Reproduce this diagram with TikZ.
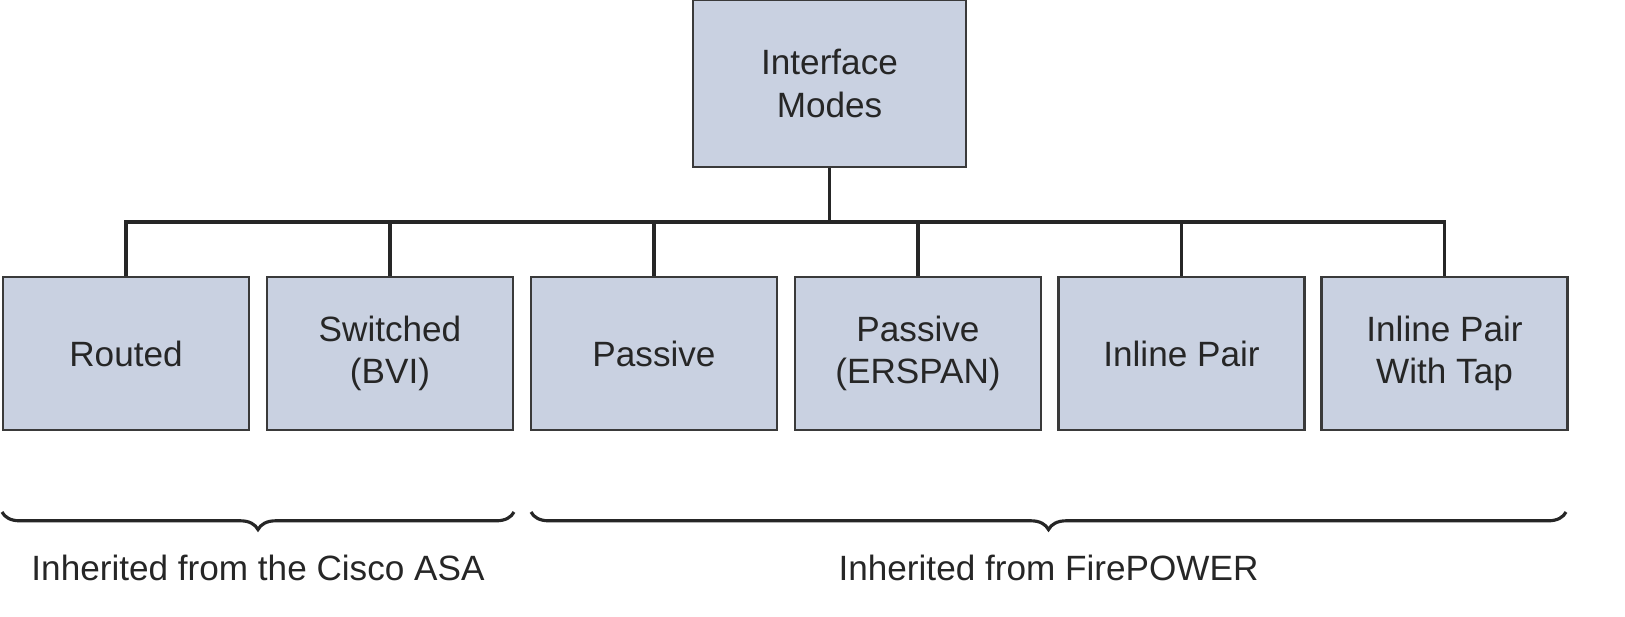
\documentclass[tikz,border=0pt]{standalone}
\usepackage{fontspec}
\setmainfont{Liberation Sans}
\usetikzlibrary{decorations.pathreplacing}
\definecolor{boxfill}{HTML}{C9D1E1}
\definecolor{boxline}{HTML}{3A3A3A}
\begin{document}
\begin{tikzpicture}[x={(0.02cm,0)},y={(0,-0.02cm)},
  box/.style={draw=boxline,line width=1.3pt,fill=boxfill,minimum width=4.92cm,minimum height=3.06cm,inner sep=0pt,align=center,font=\fontsize{20}{24}\selectfont,text=black!85},
  conn/.style={line width=1.8pt,black!85},
  brc/.style={decorate,decoration={brace,mirror,amplitude=10pt},line width=1.8pt,black!85},
  lbl/.style={font=\fontsize{20}{24}\selectfont,text=black!85}]
\useasboundingbox (0,0) rectangle (1625,616);
\node[box,minimum width=5.46cm,minimum height=3.34cm] (top) at (829.5,83.5) {Interface\\Modes};
\node[box] (b1) at (126,353.5) {Routed};
\node[box] (b2) at (390,353.5) {Switched\\(BVI)};
\node[box] (b3) at (654,353.5) {Passive};
\node[box] (b4) at (918,353.5) {Passive\\(ERSPAN)};
\node[box] (b5) at (1181.5,353.5) {Inline Pair};
\node[box] (b6) at (1444.5,353.5) {Inline Pair\\With Tap};
\coordinate (bus) at (829.5,222);
\draw[conn] (top.south) -- (bus);
\draw[conn] (b1.north) |- (bus);
\draw[conn] (b6.north) |- (bus);
\foreach \n in {b2,b3,b4,b5} \draw[conn] (\n.north) -- (\n.north |- bus);
\coordinate (l1) at (2,512); \coordinate (l2) at (514,512);
\coordinate (r1) at (531,512); \coordinate (r2) at (1566,512);
\draw[brc] (l1) -- (l2) node[midway,below=20pt,lbl] (t1) {Inherited from the Cisco ASA};
\draw[brc] (r1) -- (r2) node[midway,below=20pt,lbl] (t2) {Inherited from FirePOWER};
\end{tikzpicture}
\end{document}
